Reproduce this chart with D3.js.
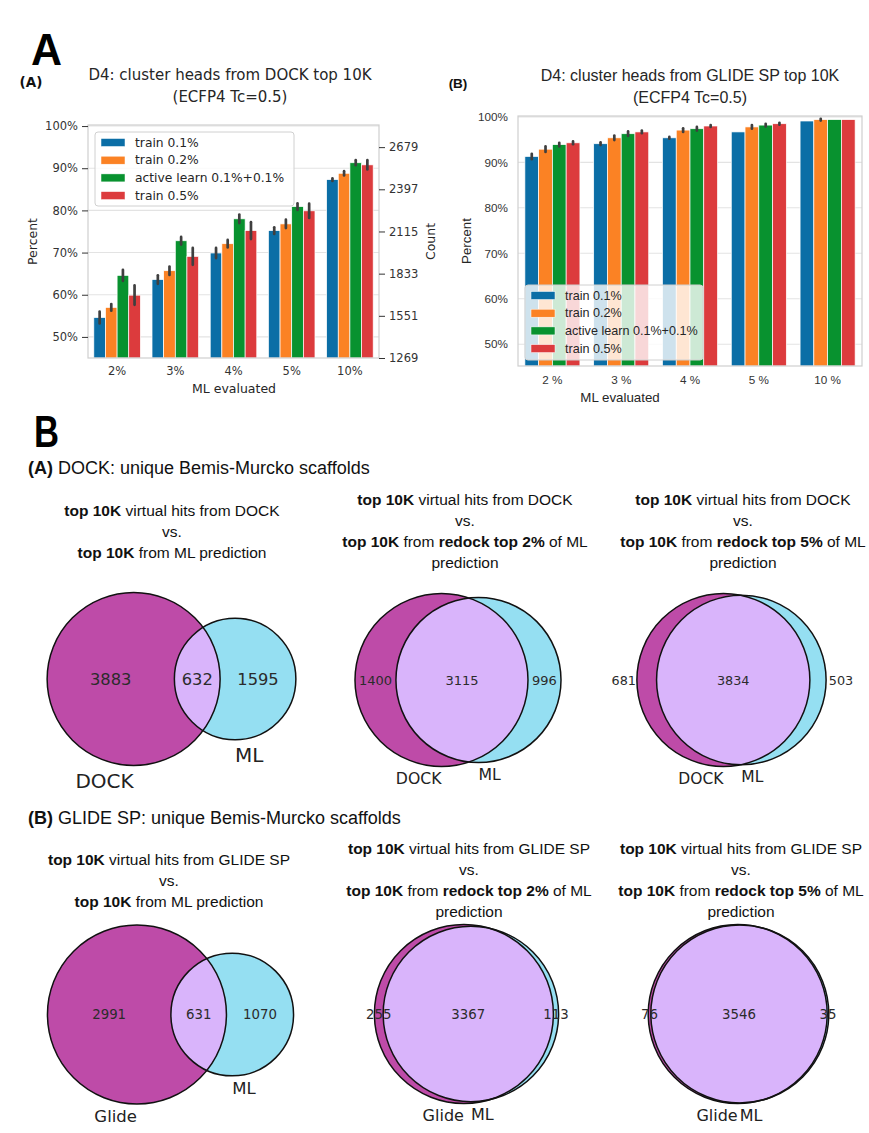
<!DOCTYPE html>
<html><head><meta charset="utf-8">
<script src="https://cdn.jsdelivr.net/npm/d3@7"></script>
<style>body{margin:0;background:#fff}svg{display:block}</style>
</head><body>
<svg id="fig" width="869" height="1133"></svg>
<script>
// ================= DATA =================
const categoriesDock = ["2%", "3%", "4%", "5%", "10%"];
const categoriesGlide = ["2 %", "3 %", "4 %", "5 %", "10 %"];
const seriesLabels = ["train 0.1%", "train 0.2%", "active learn 0.1%+0.1%", "train 0.5%"];

// Panel A (DOCK) – percent of cluster heads recovered
const dockTrain01 = [54.6, 63.6, 69.9, 75.2, 87.3];
const dockTrain02 = [57.0, 65.7, 72.1, 76.8, 88.8];
const dockActive  = [64.6, 72.8, 78.0, 80.9, 91.3];
const dockTrain05 = [59.9, 69.1, 75.2, 79.9, 90.8];
const dockErr01 = [1.4, 1.0, 1.2, 0.8, 0.3];
const dockErr02 = [0.8, 1.0, 0.9, 1.0, 0.5];
const dockErrActive = [1.3, 0.9, 1.0, 0.8, 0.6];
const dockErr05 = [2.3, 2.0, 2.0, 1.7, 1.1];

// Panel B (GLIDE SP)
const glideTrain01 = [91.3, 94.1, 95.4, 96.7, 99.1];
const glideTrain02 = [92.9, 95.4, 97.1, 97.8, 99.4];
const glideActive  = [93.9, 96.3, 97.4, 98.2, 99.4];
const glideTrain05 = [94.3, 96.7, 98.0, 98.5, 99.4];
const glideErr01 = [0.6, 0.3, 0.2, 0, 0];
const glideErr02 = [0.6, 0.5, 0.4, 0.4, 0.2];
const glideErrActive = [0.4, 0.5, 0.4, 0.3, 0];
const glideErr05 = [0.3, 0.3, 0.2, 0.2, 0];

const percentTicks = [50, 60, 70, 80, 90, 100];
const countTicks = [1269, 1551, 1833, 2115, 2397, 2679];
const countTotal = 2820;

// Venn diagrams (unique Bemis-Murcko scaffolds)
const vennSetA = ["DOCK", "DOCK", "DOCK", "Glide", "Glide", "Glide"];
const vennSetB = ["ML", "ML", "ML", "ML", "ML", "ML"];
const vennAOnly = [3883, 1400, 681, 2991, 255, 76];
const vennBoth  = [632, 3115, 3834, 631, 3367, 3546];
const vennBOnly = [1595, 996, 503, 1070, 113, 35];

// ================= STYLE / LAYOUT =================
const seriesColors = ["#0b6ea6", "#fb8224", "#08922f", "#dc3b3d"];
const vennColors = {a: "#be4ba8", b: "#95dff2", ab: "#d9b4fb"};
const svg = d3.select("#fig");

function barPanel(o) {
  const g = svg.append("g").attr("font-family", o.font);
  const x = d3.scaleBand().domain(o.categories).range([o.left, o.right]);
  const xs = d3.scaleBand().domain(d3.range(4)).range([0, x.bandwidth() * 0.8]);
  const y = d3.scaleLinear().domain(o.yDomain).range([o.bottom, o.top]);
  // grid
  g.selectAll(".grid").data(percentTicks).join("line")
    .attr("x1", o.left).attr("x2", o.right)
    .attr("y1", d => y(d)).attr("y2", d => y(d))
    .attr("stroke", "#e3e3e3").attr("stroke-width", 1.1);
  // bars
  o.values.forEach((vals, si) => {
    g.selectAll(null).data(vals).join("rect")
      .attr("x", (d, i) => x(o.categories[i]) + x.bandwidth() * 0.1 + xs(si))
      .attr("width", xs.bandwidth())
      .attr("y", d => y(d))
      .attr("height", d => y(o.yDomain[0]) - y(d))
      .attr("fill", seriesColors[si])
      .attr("stroke", "#fff").attr("stroke-width", 0.7);
  });
  // error bars
  o.values.forEach((vals, si) => {
    g.selectAll(null).data(vals.map((v, i) => [v, o.errors[si][i], i]).filter(d => d[1] > 0)).join("line")
      .attr("x1", d => x(o.categories[d[2]]) + x.bandwidth() * 0.1 + xs(si) + xs.bandwidth() / 2)
      .attr("x2", d => x(o.categories[d[2]]) + x.bandwidth() * 0.1 + xs(si) + xs.bandwidth() / 2)
      .attr("y1", d => y(d[0] - d[1])).attr("y2", d => y(d[0] + d[1]))
      .attr("stroke", "#3f3f3f").attr("stroke-width", 2.7).attr("stroke-linecap", "round");
  });
  // frame
  g.append("rect").attr("x", o.left).attr("y", o.top)
    .attr("width", o.right - o.left).attr("height", o.bottom - o.top)
    .attr("fill", "none").attr("stroke", "#cfcfcf").attr("stroke-width", 1.2);
  // left axis
  const ax = g.append("g").attr("transform", `translate(${o.left},0)`)
    .call(d3.axisLeft(y).tickValues(percentTicks).tickFormat(d => d + "%")
      .tickSize(o.ticks ? 6 : 0).tickPadding(o.ticks ? 4 : 10));
  ax.select(".domain").remove();
  ax.selectAll("text").attr("font-size", o.tickSize).attr("fill", "#333").attr("font-family", o.font);
  ax.selectAll("line").attr("stroke", "#333");
  // x axis
  const bx = g.append("g").attr("transform", `translate(0,${o.bottom})`)
    .call(d3.axisBottom(x).tickSize(0).tickPadding(o.xPad));
  bx.select(".domain").remove();
  bx.selectAll("text").attr("font-size", o.tickSize).attr("fill", "#333").attr("font-family", o.font);
  // right count axis
  if (o.countAxis) {
    const yc = d3.scaleLinear().domain(o.yDomain.map(v => v * countTotal / 100)).range([o.bottom, o.top]);
    const rx = g.append("g").attr("transform", `translate(${o.right},0)`)
      .call(d3.axisRight(yc).tickValues(countTicks).tickFormat(d3.format("d")).tickSize(6).tickPadding(4));
    rx.select(".domain").remove();
    rx.selectAll("text").attr("font-size", o.tickSize).attr("fill", "#333").attr("font-family", o.font);
    rx.selectAll("line").attr("stroke", "#333");
    g.append("text").attr("transform", `translate(${o.countLabelX},${(o.top + o.bottom) / 2}) rotate(-90)`)
      .attr("text-anchor", "middle").attr("dominant-baseline", "central")
      .attr("font-size", o.labelSize).attr("fill", "#262626").text("Count");
  }
  // labels
  g.append("text").attr("transform", `translate(${o.yLabelX},${(o.top + o.bottom) / 2}) rotate(-90)`)
    .attr("text-anchor", "middle").attr("dominant-baseline", "central")
    .attr("font-size", o.labelSize).attr("fill", "#262626").text("Percent");
  g.append("text").attr("x", o.xLabelX).attr("y", o.xLabelY)
    .attr("text-anchor", "middle").attr("dominant-baseline", "central")
    .attr("font-size", o.labelSize).attr("fill", "#262626").text("ML evaluated");
  o.title.forEach((t, i) => g.append("text").attr("x", o.titleX).attr("y", o.titleY + i * 22)
    .attr("text-anchor", "middle").attr("dominant-baseline", "central")
    .attr("font-size", o.titleSize).attr("fill", "#262626").text(t));
  g.append("text").attr("x", o.tagX).attr("y", o.tagY).attr("text-anchor", "middle")
    .attr("dominant-baseline", "central").attr("font-weight", "bold")
    .attr("font-size", 13.5).attr("fill", "#111").text(o.tag);
  // legend
  const L = o.legend;
  const lg = g.append("g");
  lg.append("rect").attr("x", L.x).attr("y", L.y).attr("width", L.w).attr("height", L.h)
    .attr("rx", 3).attr("fill", "#fff").attr("fill-opacity", 0.8)
    .attr("stroke", "#d0d0d0").attr("stroke-width", 1);
  seriesLabels.forEach((s, i) => {
    const cy = L.y + 10.5 + i * 17.7;
    lg.append("rect").attr("x", L.x + 6).attr("y", cy - 4).attr("width", 24).attr("height", 8)
      .attr("fill", seriesColors[i]).attr("stroke", "#fff").attr("stroke-width", 0.5);
    lg.append("text").attr("x", L.x + 40).attr("y", cy).attr("dominant-baseline", "central")
      .attr("font-size", L.size).attr("fill", "#262626").text(s);
  });
}

barPanel({
  font: "DejaVu Sans", categories: categoriesDock,
  values: [dockTrain01, dockTrain02, dockActive, dockTrain05],
  errors: [dockErr01, dockErr02, dockErrActive, dockErr05],
  left: 88, right: 379, top: 125, bottom: 358, yDomain: [45, 100.25],
  ticks: true, tickSize: 11.5, labelSize: 12.5, xPad: 9,
  countAxis: true, countLabelX: 430,
  yLabelX: 32, xLabelX: 234, xLabelY: 388,
  title: ["D4: cluster heads from DOCK top 10K", "(ECFP4 Tc=0.5)"], titleX: 230, titleY: 75, titleSize: 15,
  tag: "(A)", tagX: 31, tagY: 82,
  legend: {x: 95, y: 132, w: 199, h: 74, size: 12.3}
});

barPanel({
  font: "Liberation Sans", categories: categoriesGlide,
  values: [glideTrain01, glideTrain02, glideActive, glideTrain05],
  errors: [glideErr01, glideErr02, glideErrActive, glideErr05],
  left: 518, right: 862, top: 116, bottom: 366, yDomain: [45.2, 100.2],
  ticks: false, tickSize: 11.7, labelSize: 13.3, xPad: 10,
  countAxis: false,
  yLabelX: 466, xLabelX: 620, xLabelY: 397,
  title: ["D4: cluster heads from GLIDE SP top 10K", "(ECFP4 Tc=0.5)"], titleX: 690, titleY: 75, titleSize: 16,
  tag: "(B)", tagX: 458, tagY: 83,
  legend: {x: 525, y: 285, w: 178, h: 75, size: 12.6}
});

// ================= Section letters & headers =================
const T = svg.append("g").attr("font-family", "Liberation Sans");
T.append("text").attr("x", 31).attr("y", 65).attr("font-size", 45).attr("font-weight", "bold")
  .attr("textLength", 31).attr("lengthAdjust", "spacingAndGlyphs").text("A");
T.append("text").attr("x", 34).attr("y", 447).attr("font-size", 45).attr("font-weight", "bold")
  .attr("textLength", 25).attr("lengthAdjust", "spacingAndGlyphs").text("B");

function richLine(x, y, parts, size, anchor) {
  const t = T.append("text").attr("x", x).attr("y", y).attr("font-size", size)
    .attr("text-anchor", anchor || "middle").attr("dominant-baseline", "central").attr("fill", "#111");
  parts.forEach(p => t.append("tspan").attr("font-weight", p[1] ? "bold" : "normal").text(p[0]));
}
richLine(28, 468, [["(A)", 1], ["  DOCK: unique Bemis-Murcko scaffolds", 0]], 18, "start");
richLine(28, 818, [["(B)", 1], ["  GLIDE SP: unique Bemis-Murcko scaffolds", 0]], 18, "start");

function captionBlock(cx, y0, program, pct) {
  richLine(cx, y0, [["top 10K", 1], [" virtual hits from " + program, 0]], 15.5);
  richLine(cx, y0 + 21, [["vs.", 0]], 15.5);
  if (pct) {
    richLine(cx, y0 + 42, [["top 10K", 1], [" from ", 0], ["redock top " + pct, 1], [" of ML", 0]], 15.5);
    richLine(cx, y0 + 63, [["prediction", 0]], 15.5);
  } else {
    richLine(cx, y0 + 42, [["top 10K", 1], [" from ML prediction", 0]], 15.5);
  }
}
captionBlock(172, 510, "DOCK", null);
captionBlock(465, 499, "DOCK", "2%");
captionBlock(743, 499, "DOCK", "5%");
captionBlock(169, 859, "GLIDE SP", null);
captionBlock(469, 848, "GLIDE SP", "2%");
captionBlock(741, 848, "GLIDE SP", "5%");

// ================= Venn diagrams =================
function lensArea(r1, r2, d) {
  if (d >= r1 + r2) return 0;
  if (d <= Math.abs(r1 - r2)) return Math.PI * Math.min(r1, r2) ** 2;
  const a1 = r1 * r1 * Math.acos((d * d + r1 * r1 - r2 * r2) / (2 * d * r1));
  const a2 = r2 * r2 * Math.acos((d * d + r2 * r2 - r1 * r1) / (2 * d * r2));
  const k = 0.5 * Math.sqrt((-d + r1 + r2) * (d + r1 - r2) * (d - r1 + r2) * (d + r1 + r2));
  return a1 + a2 - k;
}
const vennLayout = [
  {box: 171.5, cy: 679, maxR: 86.5, num: 16.3, lab: 20, nudge: 0},
  {box: 458, cy: 680, maxR: 86.5, num: 13, lab: 15.7, nudge: 0},
  {box: 731.5, cy: 680, maxR: 86.5, num: 12.8, lab: 15.5, nudge: 23},
  {box: 170.5, cy: 1014.5, maxR: 89.5, num: 13.3, lab: 16.5, nudge: 0},
  {box: 466.5, cy: 1014, maxR: 89.5, num: 13.3, lab: 16, nudge: 0},
  {box: 738.5, cy: 1014, maxR: 89.5, num: 13.3, lab: 16, nudge: 0}
];
const V = svg.append("g").attr("font-family", "DejaVu Sans");
vennLayout.forEach((L, i) => {
  const sA = vennAOnly[i] + vennBoth[i], sB = vennBOnly[i] + vennBoth[i];
  const rScale = d3.scaleSqrt().domain([0, Math.max(sA, sB)]).range([0, L.maxR]);
  const rA = rScale(sA), rB = rScale(sB);
  const target = Math.PI * rA * rA * vennBoth[i] / sA;
  let lo = Math.abs(rA - rB) + 1e-6, hi = rA + rB;
  for (let k = 0; k < 80; k++) {
    const mid = (lo + hi) / 2;
    if (lensArea(rA, rB, mid) > target) lo = mid; else hi = mid;
  }
  const d = (lo + hi) / 2;
  const left = -rA, right = d + rB;
  const off = L.box - (left + right) / 2;
  const ax = off, bx = off + d, cy = L.cy;
  const g = V.append("g");
  const clipId = "clipA" + i;
  g.append("clipPath").attr("id", clipId).append("circle").attr("cx", ax).attr("cy", cy).attr("r", rA);
  g.append("circle").attr("cx", ax).attr("cy", cy).attr("r", rA).attr("fill", vennColors.a);
  g.append("circle").attr("cx", bx).attr("cy", cy).attr("r", rB).attr("fill", vennColors.b);
  g.append("circle").attr("cx", bx).attr("cy", cy).attr("r", rB).attr("fill", vennColors.ab)
    .attr("clip-path", `url(#${clipId})`);
  [[ax, rA], [bx, rB]].forEach(c => g.append("circle").attr("cx", c[0]).attr("cy", cy).attr("r", c[1])
    .attr("fill", "none").attr("stroke", "#111").attr("stroke-width", 1.5));
  const xAOnly = ((ax - rA) + (bx - rB)) / 2 - L.nudge;
  const xBoth = ((bx - rB) + (ax + rA)) / 2;
  const xBOnly = ((ax + rA) + (bx + rB)) / 2 + L.nudge;
  [[xAOnly, vennAOnly[i]], [xBoth, vennBoth[i]], [xBOnly, vennBOnly[i]]].forEach(p =>
    g.append("text").attr("x", p[0]).attr("y", cy).attr("text-anchor", "middle")
      .attr("dominant-baseline", "central").attr("font-size", L.num).attr("fill", "#2b2b2b").text(p[1]));
  g.append("text").attr("x", ax).attr("y", cy + rA + 1.12 * L.lab).attr("text-anchor", "end")
    .attr("font-size", L.lab).attr("fill", "#222").text(vennSetA[i]);
  g.append("text").attr("x", bx).attr("y", cy + rB + 1.12 * L.lab).attr("text-anchor", "start")
    .attr("font-size", L.lab).attr("fill", "#222").text(vennSetB[i]);
});
</script>
</body></html>
